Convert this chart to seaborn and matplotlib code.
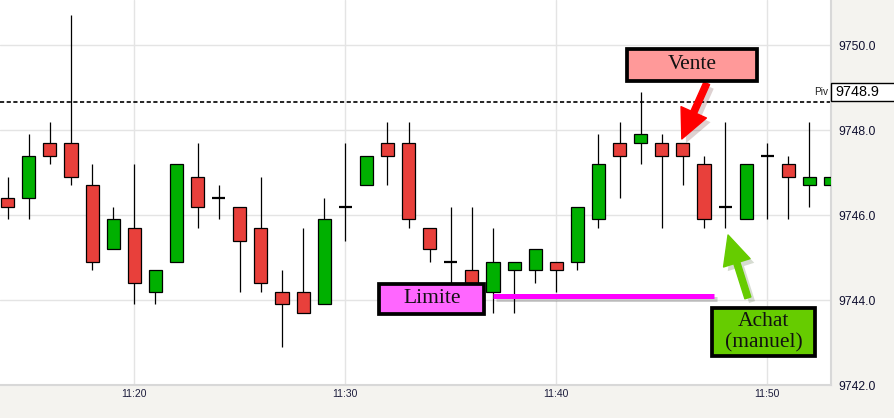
import matplotlib
matplotlib.use('Agg')
import matplotlib.pyplot as plt
import matplotlib.patheffects as pe
import matplotlib.transforms as mtransforms
from matplotlib.patches import Rectangle
import numpy as np
import pandas as pd
import seaborn as sns

# one candle per minute, x = minutes after 11:00
minutes = list(range(14, 54))
opens = [9746.40, 9746.40, 9747.70, 9747.70, 9746.70, 9745.20, 9745.70, 9744.20, 9744.90, 9746.90,
         9746.40, 9746.20, 9745.70, 9744.20, 9744.20, 9743.90, 9746.20, 9746.70, 9747.70, 9747.70,
         9745.70, 9744.90, 9744.70, 9744.20, 9744.70, 9744.70, 9744.90, 9744.90, 9745.90, 9747.70,
         9747.70, 9747.70, 9747.70, 9747.20, 9746.20, 9745.90, 9747.40, 9747.20, 9746.70, 9746.70]
highs = [9746.90, 9747.90, 9748.20, 9750.70, 9747.20, 9746.20, 9747.20, 9744.70, 9747.20, 9747.70,
         9746.70, 9746.20, 9746.90, 9744.70, 9745.70, 9746.40, 9747.70, 9747.40, 9748.20, 9748.20,
         9745.70, 9746.20, 9746.20, 9745.70, 9744.90, 9745.20, 9744.90, 9746.20, 9747.90, 9748.20,
         9748.90, 9747.90, 9747.70, 9747.40, 9748.20, 9747.20, 9747.70, 9747.40, 9748.20, 9747.40]
lows = [9745.90, 9745.90, 9747.20, 9746.70, 9744.70, 9745.20, 9743.90, 9743.90, 9744.90, 9745.70,
        9745.90, 9744.20, 9744.20, 9742.90, 9743.70, 9743.90, 9745.40, 9746.70, 9746.70, 9745.70,
        9744.90, 9744.30, 9744.00, 9743.70, 9743.70, 9744.40, 9744.20, 9744.70, 9745.70, 9746.40,
        9747.20, 9745.70, 9746.70, 9745.70, 9745.70, 9745.90, 9745.90, 9745.90, 9746.20, 9746.40]
closes = [9746.20, 9747.40, 9747.40, 9746.90, 9744.90, 9745.90, 9744.40, 9744.70, 9747.20, 9746.20,
          9746.40, 9745.40, 9744.40, 9743.90, 9743.70, 9745.90, 9746.20, 9747.40, 9747.40, 9745.90,
          9745.20, 9744.90, 9744.30, 9744.90, 9744.90, 9745.20, 9744.70, 9746.20, 9747.20, 9747.40,
          9747.90, 9747.40, 9747.40, 9745.90, 9746.20, 9747.20, 9747.40, 9746.90, 9746.90, 9746.90]

tick_minutes = [20, 30, 40, 50]
tick_labels = ['11:20', '11:30', '11:40', '11:50']
price_ticks = [9742.0, 9744.0, 9746.0, 9748.0, 9750.0]

pivot_line = 9748.65
pivot_label = 9748.9
limit_price = 9744.09
limit_start, limit_end = 37.0, 47.47

df = pd.DataFrame({'minute': minutes, 'open': opens, 'high': highs,
                   'low': lows, 'close': closes})
df['body_lo'] = df[['open', 'close']].min(axis=1)
df['body_h'] = (df['close'] - df['open']).abs()
df['color'] = np.where(df['close'] > df['open'], '#00b000', '#e8403b')
flat = df['body_h'] < 0.01

sns.set_theme(style='white')
plt.rcParams['font.family'] = ['Liberation Sans', 'DejaVu Sans']

fig = plt.figure(figsize=(8.95, 4.18), dpi=100, facecolor='#f4f3ef')
ax = fig.add_axes([0, 33 / 418, 831 / 895, 385 / 418])
ax.set_facecolor('white')

body_w = 0.62
ax.vlines(df['minute'], df['low'], df['high'], color='black', lw=0.9, zorder=2)
solid = df[~flat]
ax.bar(solid['minute'], solid['body_h'], bottom=solid['body_lo'], width=body_w,
       color=solid['color'], edgecolor='black', linewidth=0.9, zorder=3)
doji = df[flat]
ax.hlines(doji['open'], doji['minute'] - body_w / 2, doji['minute'] + body_w / 2,
          color='black', lw=1.6, zorder=3)

# pivot
ax.axhline(pivot_line, color='black', lw=1.2, ls=(0, (2.5, 1.5)), zorder=1.5)
trans = mtransforms.blended_transform_factory(ax.transAxes, ax.transData)
ax.add_patch(Rectangle((1.0, pivot_label - 0.215), 0.1, 0.43, transform=trans,
                       facecolor='white', edgecolor='black', lw=1.0, clip_on=False, zorder=5))
ax.annotate(f'{pivot_label:.1f}', xy=(1.0, pivot_label), xycoords=trans,
            xytext=(3, 0), textcoords='offset points', ha='left', va='center',
            fontsize=10.4, color='black', annotation_clip=False, zorder=6)
ax.annotate('Piv', xy=(1.0, pivot_label), xycoords=trans,
            xytext=(-2, 0), textcoords='offset points', ha='right', va='center',
            fontsize=7.2, color='#202020', annotation_clip=False)

# limit order line
ax.plot([limit_start, limit_end], [limit_price, limit_price], color='#ff00ff', lw=3.6,
        solid_capstyle='butt', zorder=5,
        path_effects=[pe.SimpleLineShadow(offset=(2, -2), alpha=0.2), pe.Normal()])

serif = ['Liberation Serif', 'DejaVu Serif']

# annotation boxes
def label_box(x0, y0, w, h, face, text):
    ax.add_patch(Rectangle((x0, y0), w, h, facecolor=face, edgecolor='black',
                           lw=2.7, zorder=7))
    ax.text(x0 + w / 2, y0 + h / 2, text, ha='center', va='center', family=serif,
            fontsize=15.5, color='#111111', linespacing=1.1, zorder=8)

label_box(43.37, 9749.165, 6.16, 0.74, '#ff9999', 'Vente')
label_box(31.62, 9743.673, 4.95, 0.715, '#ff66ff', 'Limite')
label_box(47.37, 9742.671, 4.91, 1.145, '#66cc00', 'Achat\n(manuel)')

shadow = [pe.SimplePatchShadow(offset=(3, -3), alpha=0.18), pe.Normal()]
style = 'simple,head_length=2.1,head_width=2.0,tail_width=0.45'
arr = ax.annotate('', xy=(45.95, 9747.79), xytext=(47.13, 9749.10),
                  arrowprops=dict(arrowstyle=style, mutation_scale=10, color='#ff0000',
                                  shrinkA=0, shrinkB=0),
                  zorder=6)
arr.arrow_patch.set_path_effects(shadow)
arr = ax.annotate('', xy=(48.14, 9745.53), xytext=(49.08, 9744.05),
                  arrowprops=dict(arrowstyle=style, mutation_scale=10, color='#66cc00',
                                  shrinkA=0, shrinkB=0),
                  zorder=6)
arr.arrow_patch.set_path_effects(shadow)

ax.set_xlim(13.635, 53.02)
ax.set_ylim(9742.0, 9751.06)
ax.set_xticks(tick_minutes)
ax.set_xticklabels(tick_labels)
ax.set_yticks(price_ticks)
ax.set_yticklabels([f'{v:.1f}' for v in price_ticks])
ax.yaxis.tick_right()
ax.tick_params(axis='y', length=0, pad=5, labelsize=8.7, labelcolor='#101030')
ax.tick_params(axis='x', length=0, pad=3, labelsize=7.5, labelcolor='#1c1c3c')
ax.grid(True, color='#e4e4e4', lw=1.0)
ax.set_axisbelow(True)
for side in ['top', 'left']:
    ax.spines[side].set_visible(False)
for side in ['bottom', 'right']:
    ax.spines[side].set_color('#d8d8d8')
    ax.spines[side].set_linewidth(1.5)

fig.savefig('out.png', dpi=100, facecolor=fig.get_facecolor())
